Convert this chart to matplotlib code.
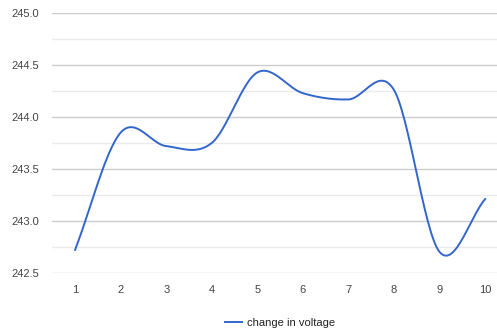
import numpy as np
import matplotlib
matplotlib.use("Agg")
import matplotlib.pyplot as plt

plt.rcParams['font.family'] = ['Liberation Sans', 'DejaVu Sans']

# data
steps = [1, 2, 3, 4, 5, 6, 7, 8, 9, 10]
voltage = [242.72, 243.85, 243.72, 243.75, 244.43, 244.23, 244.17, 244.26, 242.70, 243.21]
y_ticks = [242.5, 243.0, 243.5, 244.0, 244.5, 245.0]
series_name = 'change in voltage'


def smooth(x, y, n=30):
    # catmull-rom style curve through the points, like curveType 'function'
    x = np.asarray(x, float)
    y = np.asarray(y, float)
    xs, ys = [], []
    for i in range(len(x) - 1):
        m1 = (y[i + 1] - y[i - 1]) / 2 if i > 0 else (y[i + 1] - y[i])
        m2 = (y[i + 2] - y[i]) / 2 if i + 2 < len(y) else (y[i + 1] - y[i])
        t = np.linspace(0, 1, n, endpoint=False)
        h00 = 2*t**3 - 3*t**2 + 1
        h10 = t**3 - 2*t**2 + t
        h01 = -2*t**3 + 3*t**2
        h11 = t**3 - t**2
        xs.append(x[i] + t * (x[i + 1] - x[i]))
        ys.append(h00*y[i] + h10*m1 + h01*y[i + 1] + h11*m2)
    xs.append([x[-1]])
    ys.append([y[-1]])
    return np.concatenate(xs), np.concatenate(ys)


fig = plt.figure(figsize=(4.97, 3.31), dpi=100)
ax = fig.add_axes([52/497, 1 - 272.7/331, 1 - 52/497, (272.7 - 13.3)/331])

sx, sy = smooth(steps, voltage)
line, = ax.plot(sx, sy, color='#3366cc', lw=1.4, label=series_name, zorder=3)

ax.set_xlim(0.494, 10.26)
ax.set_ylim(242.5, 245.0)
ax.set_xticks(steps)
ax.set_yticks(y_ticks)
ax.set_yticklabels(['%.1f' % v for v in y_ticks])
ax.set_yticks(np.arange(242.75, 245.0, 0.5), minor=True)

ax.grid(True, axis='y', which='major', color='#cccccc', lw=1)
ax.grid(True, axis='y', which='minor', color='#ebebeb', lw=1)
ax.set_axisbelow(True)
for s in ax.spines.values():
    s.set_visible(False)
ax.tick_params(axis='both', which='both', length=0, labelsize=8, colors='#444444')
ax.tick_params(axis='y', pad=9)
ax.tick_params(axis='x', pad=9)

fig.legend(handles=[line], loc='center', bbox_to_anchor=(0.563, 0.024),
           frameon=False, fontsize=8, handlelength=1.6, handletextpad=0.4,
           labelcolor='#222222')

fig.savefig('out.png', dpi=100)
